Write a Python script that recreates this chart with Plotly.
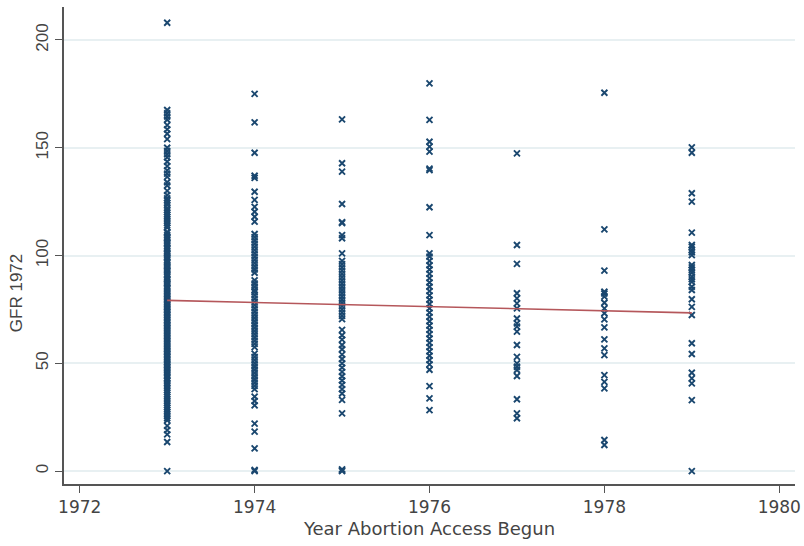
import plotly.graph_objects as go

# ---- data ----
years = [1973, 1974, 1975, 1976, 1977, 1978, 1979]

gfr_1973 = [208, 167.5, 166, 164.5, 163, 160.5, 158.5, 156.5, 154, 150, 148.5, 147, 145.5,
            143.5, 141.5, 139.5, 138, 136.5, 134, 132.5, 130, 128, 126.5, 125.5, 124.5,
            123.5, 122, 121, 120, 119, 118, 117, 116, 115, 114, 113, 111, 110.5, 109.5,
            108.5, 108, 107, 106, 105.5, 104.5, 103.5, 103, 102, 101, 100.5, 99.5, 99, 98,
            97, 96.5, 95.5, 95, 94, 93, 92.5, 91.5, 91, 90, 89, 88.5, 87.5, 87, 86, 85,
            84.5, 83.5, 83, 82, 81.5, 80.5, 80, 79, 78.5, 77.5, 77, 76, 75.5, 74.5, 74, 73,
            72.5, 71.5, 71, 70, 69.5, 68.5, 68, 67, 66.5, 65.5, 65, 64, 63.5, 62.5, 62, 61,
            60.5, 59.5, 59, 58, 57.5, 56.5, 56, 55, 54.5, 53.5, 53, 52, 51.5, 50.5, 50, 49,
            48.5, 47.5, 47, 46, 45.5, 44.5, 44, 43, 42, 41, 40.5, 39.5, 38.5, 37.5, 36.5,
            35.5, 34.5, 33.5, 32.5, 31.5, 30.5, 29.5, 28.5, 27.5, 26.5, 25.5, 24.5, 23.5,
            21, 19, 17, 13.5, 0]
gfr_1974 = [175, 161.8, 147.7, 137, 136, 129.6, 125.8, 122.6, 120.3, 118, 115.7,
            110, 108.5, 107, 105.5, 104, 102.5, 101, 99.5, 98, 96.5, 95, 93.5, 92,
            88.5, 87, 85.5, 84, 83, 81.5, 80, 78.5, 77, 75.5, 74,
            72.5, 71, 69.5, 68, 66.5, 65, 63.5, 62, 60.5, 59, 57.5,
            54.5, 53, 51.5, 50, 48.5, 47, 45.5, 44, 42.5, 41, 39.5, 38,
            34.5, 32.5, 30.5, 22, 18.3, 10.5, 0.5, 0]
gfr_1975 = [163.2, 142.8, 138.9, 123.9, 115.5, 115, 109.5, 108, 101, 97.5, 96, 94.5,
            93, 91.5, 90, 88.5, 87, 85.5, 84, 82.5, 81, 79.5, 78, 76.5, 75, 73.5, 72,
            70.5, 65.5, 63, 61, 58.5, 56.5, 54, 52, 50, 48, 46, 44, 42, 40, 38, 36, 33,
            26.8, 0.8, 0.3, 0]
gfr_1976 = [179.9, 162.9, 152.8, 150.5, 148.2, 140.3, 139.6, 122.4, 109.5, 101, 99.5,
            97.5, 95.5, 93.5, 91.5, 89.5, 87.5, 85.5, 83.5, 81.5, 79.5, 77.5, 75.5, 73.5,
            71.5, 69.5, 67.5, 65.5, 63.5, 61.5, 59.5, 57.5, 55.5, 53.5, 51.5, 49.5, 47,
            39.4, 33.7, 28.3]
gfr_1977 = [147.4, 104.9, 96.1, 82.5, 80.1, 77.8, 75.5, 70.8, 68.5, 67, 64.7, 58.5, 53,
            50, 48.4, 46.9, 44.1, 33.3, 26.8, 24.5]
gfr_1978 = [175.5, 112.1, 93, 83.2, 82.4, 80.9, 78.1, 75.5, 73.2, 70.4, 66.7, 61.1, 56.9,
            53.8, 44.5, 41.4, 38.4, 14.4, 12.1]
gfr_1979 = [150.2, 147.7, 128.9, 125, 110.6, 104.9, 104, 102.6, 101.5, 100.2, 95.6, 94.5,
            93.3, 92, 90.2, 89, 87.8, 85.5, 84, 79.7, 76.2, 72.4, 59.3, 54.3, 45.6, 43,
            40.7, 32.9, 0]

fit_x = [1973, 1979]
fit_y = [79.2, 73.4]

x_ticks = [1972, 1974, 1976, 1978, 1980]
y_ticks = [0, 50, 100, 150, 200]

# ---- build ----
series = [gfr_1973, gfr_1974, gfr_1975, gfr_1976, gfr_1977, gfr_1978, gfr_1979]
xs, ys = [], []
for yr, vals in zip(years, series):
    xs += [yr] * len(vals)
    ys += vals

MARK = "#1a476f"
FIT = "#b5575b"
GRID = "#e8f0f2"
AXIS = "#555555"
TXT = "#444444"
FONT = "Liberation Sans, Arial, sans-serif"
XFONT = "DejaVu Sans, Liberation Sans, sans-serif"

fig = go.Figure()
fig.add_trace(go.Scatter(
    x=xs, y=ys, mode="markers",
    marker=dict(symbol="x-thin", size=6, color=MARK,
                line=dict(width=1.9, color=MARK)),
    showlegend=False,
))
fig.add_trace(go.Scatter(
    x=fit_x, y=fit_y, mode="lines",
    line=dict(color=FIT, width=1.6), showlegend=False,
))

fig.update_layout(
    width=804, height=546,
    margin=dict(l=64, r=9, t=7, b=62),
    paper_bgcolor="white", plot_bgcolor="white",
    font=dict(family=FONT, color=TXT, size=17),
    xaxis=dict(
        range=[1971.82, 1980.18], tickvals=x_ticks,
        showgrid=False, zeroline=False, automargin=False,
        showline=True, linecolor=AXIS, linewidth=1.5,
        ticks="outside", ticklen=7, tickcolor=AXIS, tickwidth=1.3,
        ticklabeloverflow="allow",
        tickfont=dict(size=17, color=TXT, family=XFONT),
        title=dict(text="Year Abortion Access Begun",
                   font=dict(size=18, color=TXT, family=XFONT),
                   standoff=6),
    ),
    yaxis=dict(
        range=[-6, 215.3], tickvals=y_ticks, automargin=False,
        showgrid=True, gridcolor=GRID, gridwidth=1.5, zeroline=False,
        showline=True, linecolor=AXIS, linewidth=1.5,
        ticks="outside", ticklen=7, tickcolor=AXIS, tickwidth=1.3,
        ticklabeloverflow="allow",
        tickangle=-90, tickfont=dict(size=17, color=TXT),
    ),
    annotations=[dict(
        text="GFR 1972", xref="paper", yref="paper", x=-0.05, y=0.40,
        xanchor="right", yanchor="middle", textangle=-90, showarrow=False,
        font=dict(size=17, color=TXT, family=FONT),
    )],
)

fig.write_html(
    "out.html",
    config={"displayModeBar": False},
    post_script="document.body.style.margin='0';document.body.style.padding='0';",
)
